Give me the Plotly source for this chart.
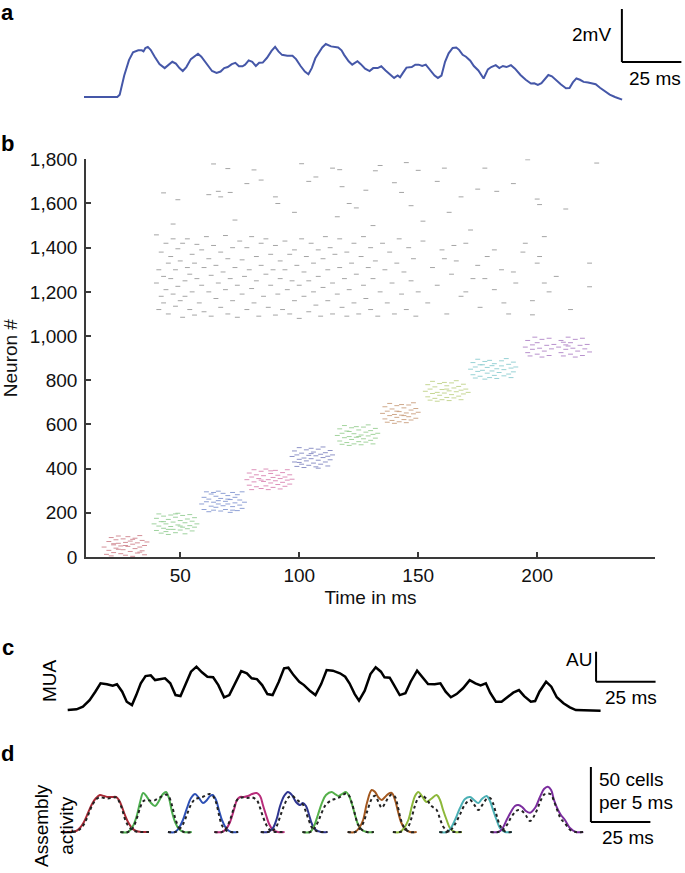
import plotly.graph_objects as go

W, H = 685, 873
FONT = "Liberation Sans, Arial, Helvetica, sans-serif"

# ---------------- Panel a: membrane potential (ms, mV) ----------------
vm_t = [0, 14.0, 15.0, 16.9, 18.9, 20.6, 22.8, 24.3, 25.0, 25.8, 26.8, 28.0, 29.7, 31.7, 33.9, 35.3, 37.1,
        38.6, 40.1, 41.5, 43.0, 44.9, 46.4, 47.9, 49.3, 50.8, 52.3, 53.8, 55.7, 57.4, 58.9, 60.4, 62.1,
        63.6, 65.1, 66.6, 67.7, 69.2, 70.7, 72.2, 73.6, 75.1, 76.9, 78.8, 80.3, 81.7, 83.2, 85.4, 87.6,
        89.1, 91.0, 92.8, 94.3, 95.7, 97.2, 98.7, 100.1, 101.6, 103.8, 106.8, 108.2, 109.3, 111.2, 112.7,
        114.9, 116.3, 118.1, 120.0, 121.5, 123.4, 124.9, 126.7, 128.9, 130.3, 131.8, 132.8, 134.0, 135.5,
        137.7, 139.2, 140.6, 142.1, 143.6, 145.4, 147.3, 148.7, 150.2, 151.7, 153.2, 154.9, 156.4, 157.6,
        159.1, 160.5, 162.3, 163.8, 165.7, 167.9, 169.7, 171.1, 173.0, 174.5, 176.0, 177.5, 179.4, 181.1,
        183.4, 185.6, 187.8, 189.2, 190.7, 192.2, 193.7, 195.1, 196.6, 198.1, 200.3, 202.5, 204.0, 205.4,
        206.9, 208.4, 209.9, 211.8, 213.5, 215.0, 216.8, 218.7, 220.9, 223.1, 226.1]
vm_mv = [0, 0, 0.09, 0.81, 1.39, 1.69, 1.76, 1.76, 1.72, 1.85, 1.89, 1.78, 1.52, 1.24, 1.09, 1.20, 1.33,
         1.26, 1.09, 0.98, 1.13, 1.43, 1.52, 1.63, 1.52, 1.33, 1.13, 0.98, 0.91, 0.96, 1.09, 1.13, 1.24,
         1.29, 1.16, 1.16, 1.22, 1.38, 1.33, 1.17, 1.29, 1.30, 1.48, 1.74, 1.89, 1.72, 1.59, 1.56, 1.56,
         1.43, 1.17, 0.96, 0.86, 1.09, 1.46, 1.65, 1.87, 2.00, 1.91, 1.87, 1.76, 1.59, 1.35, 1.22,
         1.35, 1.24, 1.07, 0.98, 1.09, 1.09, 1.16, 1.00, 0.81, 0.72, 0.81, 0.74, 0.91, 1.11,
         1.13, 1.22, 1.22, 1.17, 1.22, 1.04, 0.81, 0.72, 0.81, 1.33, 1.65, 1.85, 1.87, 1.78,
         1.59, 1.52, 1.37, 1.17, 1.00, 0.70, 1.04, 1.13, 1.20, 1.09, 1.17, 1.13, 1.20, 1.07,
         0.83, 0.65, 0.51, 0.52, 0.46, 0.52, 0.68, 0.83, 0.78, 0.65, 0.48, 0.33, 0.34, 0.55,
         0.70, 0.65, 0.57, 0.55, 0.51, 0.48, 0.35, 0.22, 0.09, 0.00, -0.10]

# ---------------- Panel b: raster (time ms, neuron #) ----------------
asm_colors = ["#b03242", "#4fae4f", "#3151b3", "#c2337f", "#2f3899",
              "#57b04c", "#a8612a", "#97b63c", "#42adb3", "#7d34a3"]

asm1 = [(18, 45), (19, 12), (20, 70), (20, 30), (21, 88), (21, 5), (22, 55), (22, 20), (23, 78), (23, 40),
        (24, 95), (24, 62), (25, 15), (25, 50), (26, 82), (26, 33), (27, 8), (27, 66), (28, 48), (28, 92),
        (29, 25), (29, 72), (30, 58), (30, 3), (31, 38), (31, 85), (32, 18), (32, 64), (33, 45), (33, 97),
        (34, 28), (34, 75), (35, 52), (35, 10), (36, 68), (24, 35), (27, 52), (30, 80), (22, 60), (33, 22)]
asm2 = [(39, 150), (40, 120), (40, 175), (41, 140), (41, 195), (42, 108), (42, 160), (43, 130), (43, 185),
        (44, 115), (44, 150), (45, 170), (45, 102), (46, 138), (46, 190), (47, 125), (47, 158), (48, 180),
        (48, 110), (49, 145), (49, 198), (50, 122), (50, 165), (51, 135), (51, 188), (52, 105), (52, 155),
        (53, 172), (53, 128), (54, 142), (54, 192), (55, 118), (55, 162), (56, 178), (56, 135), (57, 150),
        (45, 125), (50, 140), (48, 195), (43, 160)]
asm3 = [(59, 240), (60, 215), (60, 270), (61, 250), (61, 295), (62, 205), (62, 262), (63, 230), (63, 285),
        (64, 212), (64, 248), (65, 275), (65, 225), (66, 298), (66, 240), (67, 208), (67, 265), (68, 288),
        (68, 232), (69, 252), (69, 215), (70, 278), (70, 240), (71, 202), (71, 260), (72, 292), (72, 228),
        (73, 245), (73, 270), (74, 210), (74, 282), (75, 235), (75, 258), (76, 220), (76, 295), (77, 248),
        (66, 255), (70, 262), (64, 292), (72, 212)]
asm4 = [(78, 350), (79, 325), (79, 380), (80, 305), (80, 362), (81, 340), (81, 395), (82, 318), (82, 372),
        (83, 355), (84, 310), (84, 388), (85, 342), (85, 368), (86, 322), (86, 398), (87, 350), (87, 305),
        (88, 378), (88, 335), (89, 360), (89, 315), (90, 392), (90, 345), (91, 328), (91, 370), (92, 308),
        (92, 355), (93, 382), (93, 338), (94, 320), (94, 362), (95, 348), (95, 395), (96, 330), (96, 372),
        (97, 352), (88, 390), (84, 348)]
asm5 = [(97, 455), (98, 430), (98, 480), (99, 410), (99, 462), (100, 442), (100, 495), (101, 420), (101, 470),
        (102, 448), (102, 405), (103, 485), (103, 435), (104, 460), (104, 415), (105, 492), (105, 445),
        (106, 425), (106, 475), (107, 458), (107, 408), (108, 438), (108, 488), (109, 465), (109, 420),
        (110, 450), (110, 498), (111, 430), (111, 472), (112, 412), (112, 456), (113, 482), (113, 440),
        (114, 462), (105, 468), (100, 428), (108, 402)]
asm6 = [(116, 550), (117, 525), (117, 580), (118, 510), (118, 560), (119, 540), (119, 595), (120, 518),
        (120, 570), (121, 545), (121, 505), (122, 585), (122, 532), (123, 558), (123, 512), (124, 590),
        (124, 542), (125, 522), (125, 575), (126, 552), (126, 508), (127, 535), (127, 588), (128, 565),
        (128, 520), (129, 548), (129, 598), (130, 528), (130, 572), (131, 512), (131, 555), (132, 582),
        (132, 538), (133, 560), (125, 545), (121, 568)]
asm7 = [(135, 650), (136, 625), (136, 680), (137, 610), (137, 660), (138, 640), (138, 695), (139, 618),
        (139, 670), (140, 645), (140, 605), (141, 685), (141, 632), (142, 658), (142, 612), (143, 690),
        (143, 642), (144, 622), (144, 675), (145, 652), (145, 608), (146, 635), (146, 688), (147, 665),
        (147, 620), (148, 648), (148, 698), (149, 628), (149, 672), (150, 655), (141, 660), (144, 640)]
asm8 = [(153, 750), (154, 725), (154, 780), (155, 710), (155, 760), (156, 740), (156, 795), (157, 718),
        (157, 770), (158, 745), (158, 705), (159, 785), (159, 732), (160, 758), (160, 712), (161, 790),
        (161, 742), (162, 722), (162, 775), (163, 752), (163, 708), (164, 735), (164, 788), (165, 765),
        (165, 720), (166, 748), (166, 798), (167, 728), (167, 772), (168, 712), (168, 755), (169, 782),
        (169, 738), (170, 760), (171, 745), (162, 760)]
asm9 = [(172, 850), (173, 825), (173, 880), (174, 810), (174, 860), (175, 840), (175, 895), (176, 818),
        (176, 870), (177, 845), (178, 805), (178, 885), (179, 832), (179, 858), (180, 812), (180, 890),
        (181, 842), (182, 822), (182, 875), (183, 852), (183, 808), (184, 835), (185, 888), (185, 865),
        (186, 820), (186, 848), (187, 898), (188, 828), (188, 872), (189, 812), (189, 855), (190, 882),
        (190, 838), (191, 860), (181, 866), (177, 870)]
asm10 = [(195, 950), (196, 925), (196, 980), (197, 910), (198, 960), (198, 940), (199, 995), (200, 918),
         (200, 970), (201, 945), (202, 905), (202, 985), (203, 932), (204, 958), (205, 912), (205, 990),
         (206, 942), (207, 962), (209, 950), (210, 925), (210, 980), (211, 910), (212, 960), (212, 940),
         (213, 995), (214, 918), (214, 970), (215, 945), (216, 905), (216, 985), (217, 932), (218, 958),
         (219, 912), (219, 990), (220, 942), (221, 962), (222, 928), (213, 955), (211, 972)]
assemblies = [asm1, asm2, asm3, asm4, asm5, asm6, asm7, asm8, asm9, asm10]

bg_spikes = [
    (43, 1648), (47, 1507), (49, 1617), (62, 1640), (64, 1779), (66, 1655), (67, 1630), (70, 1758), (71, 1650),
    (73, 1525), (78, 1690), (81, 1752), (84, 1706), (90, 1630), (91, 1600), (98, 1560), (101, 1780), (104, 1700),
    (107, 1720), (114, 1760), (116, 1540), (117, 1753), (118, 1676), (121, 1600), (124, 1580), (128, 1660),
    (131, 1500), (132, 1748), (134, 1772), (140, 1694), (143, 1650), (145, 1785), (147, 1590), (150, 1750),
    (152, 1520), (158, 1700), (161, 1760), (163, 1560), (168, 1630), (172, 1480), (175, 1665), (178, 1760),
    (183, 1655), (190, 1690), (196, 1798), (200, 1620), (201, 1595), (212, 1575), (225, 1783),
    (40, 1458), (40, 1240), (41, 1120), (41, 1300), (42, 1180), (42, 1380), (43, 1150), (43, 1270),
    (44, 1420), (44, 1210), (45, 1330), (45, 1100), (46, 1260), (46, 1360), (47, 1190), (47, 1440),
    (48, 1135), (48, 1300), (49, 1225), (49, 1395), (50, 1160), (50, 1340), (51, 1085), (51, 1420),
    (52, 1250), (52, 1180), (53, 1310), (53, 1440), (54, 1120), (54, 1280), (55, 1370), (55, 1200),
    (56, 1095), (56, 1330), (57, 1260), (57, 1415), (58, 1150), (59, 1390), (59, 1230), (60, 1310),
    (60, 1110), (61, 1450), (62, 1200), (62, 1350), (63, 1275), (63, 1090), (64, 1410), (65, 1170),
    (65, 1320), (66, 1240), (67, 1380), (67, 1130), (68, 1290), (69, 1455), (69, 1210), (70, 1100),
    (70, 1350), (71, 1260), (72, 1400), (72, 1160), (73, 1310), (74, 1230), (74, 1085), (75, 1430),
    (76, 1190), (76, 1345), (77, 1270), (78, 1120), (78, 1400), (79, 1300), (80, 1215), (80, 1450),
    (81, 1150), (82, 1360), (82, 1250), (83, 1090), (84, 1320), (84, 1420), (85, 1180), (86, 1280),
    (86, 1440), (87, 1130), (88, 1370), (88, 1230), (89, 1300), (90, 1095), (90, 1410), (91, 1190),
    (92, 1340), (92, 1260), (93, 1120), (94, 1430), (94, 1300), (95, 1210), (96, 1370), (96, 1100),
    (97, 1250), (98, 1390), (98, 1160), (99, 1320), (100, 1230), (100, 1080), (101, 1440), (102, 1290),
    (102, 1180), (103, 1360), (104, 1110), (104, 1250), (105, 1420), (106, 1200), (106, 1330), (107, 1140),
    (108, 1390), (108, 1270), (109, 1090), (110, 1350), (110, 1220), (111, 1450), (112, 1160), (112, 1300),
    (113, 1400), (114, 1240), (114, 1100), (115, 1370), (116, 1190), (117, 1310), (117, 1440), (118, 1130),
    (119, 1260), (120, 1380), (120, 1090), (121, 1210), (122, 1330), (123, 1150), (123, 1420), (124, 1280),
    (125, 1100), (126, 1360), (127, 1230), (127, 1450), (128, 1170), (129, 1310), (130, 1400), (130, 1120),
    (131, 1260), (132, 1340), (133, 1090), (134, 1200), (135, 1420), (136, 1300), (137, 1150), (138, 1380),
    (139, 1240), (140, 1100), (141, 1330), (142, 1440), (143, 1190), (144, 1290), (145, 1120), (146, 1400),
    (147, 1250), (148, 1350), (149, 1090), (150, 1200), (152, 1430), (154, 1150), (156, 1310), (158, 1230),
    (160, 1390), (161, 1350), (162, 1100), (164, 1280), (165, 1410), (166, 1340), (168, 1180), (170, 1420),
    (170, 1200), (173, 1260), (175, 1320), (176, 1130), (178, 1260), (179, 1360), (182, 1390), (182, 1210),
    (185, 1300), (186, 1150), (188, 1100), (190, 1290), (191, 1240), (194, 1380), (195, 1420), (198, 1096),
    (198, 1160), (200, 1330), (201, 1360), (203, 1240), (203, 1450), (205, 1200), (208, 1270), (214, 1120),
    (222, 1223), (222, 1330)]

y_ticks = [0, 200, 400, 600, 800, 1000, 1200, 1400, 1600, 1800]
x_ticks = [50, 100, 150, 200, 250]
x_ticklabels = ["50", "100", "150", "200", ""]

# ---------------- Panel c: MUA (ms, AU) ----------------
mua_t = [0.0, 3.7, 6.4, 9.2, 11.6, 13.8, 16.5, 18.9, 20.7, 22.9, 24.8, 27.0, 28.8, 30.7, 32.7, 34.9, 36.7,
         38.9, 40.9, 43.1, 45.3, 47.4, 49.6, 51.8, 54.1, 56.4, 58.7, 61.1, 63.3, 65.7, 67.9, 70.7, 72.9,
         75.3, 77.3, 79.5, 81.7, 83.9, 86.1, 88.7, 90.9, 92.7, 94.9, 97.3, 99.3, 101.9, 104.1, 106.5,
         108.8, 111.4, 114.4, 116.6, 118.4, 120.6, 122.4, 124.8, 127.2, 129.4, 131.6, 133.1, 135.3,
         136.7, 139.5, 141.9, 144.1, 146.8, 149.2, 151.4, 154.2, 156.6, 158.8, 161.0, 163.4, 166.1,
         168.9, 171.3, 173.5, 175.7, 177.5, 179.9, 182.3, 184.8, 187.2, 189.6, 191.8, 194.6, 196.4,
         198.2, 201.0, 203.2, 205.5, 208.3, 211.0, 213.5, 216.6, 220.3, 223.9]
mua_au = [0.03, 0.07, 0.20, 0.53, 0.95, 1.37, 1.32, 1.25, 1.32, 0.95, 0.45, 0.28, 0.78, 1.37, 1.73, 1.77, 1.53,
          1.58, 1.62, 1.37, 0.78, 0.73, 1.37, 1.95, 2.20, 1.92, 1.70, 1.67, 1.28, 0.67, 0.78, 1.45, 1.98,
          1.87, 1.62, 1.58, 1.28, 0.83, 0.78, 1.45, 2.12, 2.15, 1.78, 1.45, 1.28, 0.98, 0.78, 1.33,
          2.03, 2.00, 1.87, 1.70, 1.37, 0.83, 0.50, 1.00, 1.83, 2.17, 1.95, 1.67, 1.65,
          1.37, 0.78, 0.87, 1.45, 2.00, 1.67, 1.33, 1.32, 1.37, 0.95, 0.67, 0.83, 1.12,
          1.53, 1.37, 1.27, 1.37, 0.90, 0.45, 0.45, 0.70, 0.90, 1.03, 0.73, 0.45, 0.48,
          0.95, 1.45, 1.20, 0.67, 0.37, 0.17, 0.03, 0.03, 0.00, 0.00]

# ---------------- Panel d: assembly activity (ms, cells per 5 ms) ----------------
d_t = [
    [-3.0, 0, 3.4, 5.0, 6.7, 8.4, 10.1, 11.8, 13.4, 15.1, 16.8, 18.5, 20.2, 21.4, 22.7, 23.9, 25.2, 26.9, 28.6, 31.1, 34.0],
    [22.0, 25.2, 27.3, 29.0, 30.3, 31.6, 33.2, 34.9, 36.6, 38.2, 39.9, 41.2, 42.4, 43.7, 45.0, 46.6, 48.7, 52.0],
    [42.0, 45.0, 46.6, 48.3, 50.0, 51.7, 53.4, 55.0, 56.7, 58.4, 59.7, 60.8, 62.2, 63.4, 64.7, 66.4, 68.5, 71.5],
    [61.5, 64.7, 66.4, 68.1, 69.7, 71.0, 72.3, 73.9, 75.6, 77.3, 79.3, 80.7, 81.9, 83.2, 84.5, 86.1, 88.2, 91.0],
    [81.0, 84.0, 86.1, 87.8, 89.1, 90.8, 92.4, 94.1, 95.8, 97.5, 98.7, 100.0, 101.3, 102.5, 104.2, 106.3, 109.0],
    [98.5, 101.7, 103.4, 105.0, 106.7, 108.4, 110.8, 112.2, 113.6, 115.1, 116.8, 118.1, 119.3, 120.6, 121.8, 123.5, 125.6, 128.5],
    [117.5, 120.6, 122.3, 124.0, 125.6, 127.6, 129.0, 130.3, 131.8, 133.2, 134.5, 136.0, 137.4, 138.7, 139.9, 141.6, 143.7, 146.5],
    [136.5, 139.5, 141.2, 143.0, 144.5, 145.8, 147.2, 148.7, 150.7, 152.5, 154.9, 156.3, 157.6, 159.1, 160.5, 162.6, 165.5],
    [156.0, 159.2, 160.9, 162.6, 164.7, 166.8, 168.9, 170.6, 172.4, 173.9, 175.9, 177.3, 178.6, 180.1, 181.5, 183.6, 186.5],
    [177.5, 180.7, 182.4, 184.3, 186.1, 187.8, 189.2, 190.8, 192.4, 194.1, 196.2, 198.3, 200.0, 201.6, 203.0, 204.2,
     205.9, 207.1, 208.8, 210.9, 213.4, 216.5],
]
d_model = [
    [0, 0, 0.9, 3.6, 9.1, 17.3, 25.5, 30.9, 33.6, 32.7, 31.8, 31.8, 31.8, 29.1, 22.7, 15.5, 9.1, 3.6, 0.9, 0, 0],
    [0, 0, 5.5, 15.5, 27.3, 35.5, 31.8, 26.4, 23.6, 28.2, 34.5, 36.4, 30.9, 18.2, 9.1, 2.7, 0, 0],
    [0, 0, 3.6, 10.9, 21.8, 30.9, 34.5, 30.9, 26.4, 29.1, 32.7, 33.6, 29.1, 20, 10.9, 3.6, 0, 0],
    [0, 0, 2.7, 9.1, 20, 29.1, 31.8, 31.8, 32.7, 34.5, 35.5, 32.7, 24.5, 15.5, 7.3, 1.8, 0, 0],
    [0, 0, 3.6, 12.7, 23.6, 32.7, 36.4, 33.6, 27.3, 24.5, 26.4, 23.6, 15.5, 7.3, 1.8, 0, 0],
    [0, 0, 5.5, 15.5, 26.4, 33.6, 36.4, 34.5, 32.7, 34.5, 36.4, 32.7, 25.5, 15.5, 7.3, 1.8, 0, 0],
    [0, 0, 3.6, 10.9, 26.4, 38.2, 36.4, 31.8, 29.1, 31.8, 34.5, 35.5, 29.1, 18.2, 9.1, 2.7, 0, 0],
    [0, 0, 3.6, 10.9, 23.6, 32.7, 36.4, 32.7, 27.3, 30, 33.6, 29.1, 20, 10.9, 3.6, 0, 0],
    [0, 0, 3.6, 10.9, 21.8, 30, 31.8, 29.1, 26.4, 30, 32.7, 28.2, 20, 10.9, 3.6, 0, 0],
    [0, 0, 2.7, 10.9, 18.2, 23.6, 24.5, 22.7, 19.1, 17.5, 21.8, 31.8, 39.1, 41.2, 38.2, 29.1, 20, 15.5, 10.9, 3.6, 0, 0],
]
d_data = [
    [0, 0, 0.5, 2.5, 7, 15, 24, 29.5, 31.5, 31, 30.5, 31, 31.5, 28, 21, 12, 6, 2, 0.5, 0, 0],
    [0, 0, 4, 13, 22, 28, 29, 28.5, 29, 31, 33, 34, 32, 24, 13, 4, 0, 0],
    [0, 0, 2, 7, 16, 25, 30, 31, 32, 34, 34.5, 33, 27, 16, 6, 1.5, 0, 0],
    [0, 0, 3, 11, 22, 29, 31, 31.5, 31, 31.5, 29, 22, 14, 7, 2.5, 0.5, 0, 0],
    [0, 0, 1.5, 6, 14, 24, 31, 33, 30, 27, 25, 18, 10, 4, 1, 0, 0],
    [0, 0, 3, 9, 18, 25, 29, 30, 31, 33, 35, 33, 26, 16, 7, 2, 0, 0],
    [0, 0, 2.5, 8, 18, 30, 33, 28, 22, 26, 31, 34, 32, 22, 11, 3, 0, 0],
    [0, 0, 1.5, 5, 14, 24, 31, 33, 30, 24, 20, 12, 5, 1.5, 0.3, 0, 0],
    [0, 0, 2, 7, 16, 25, 29, 25, 20, 24, 30, 31, 26, 15, 6, 0.5, 0],
    [0, 0, 1.5, 6, 13, 18, 20, 19, 15, 10, 16, 27, 34, 35, 34, 28, 18, 12, 8, 2, 0, 0],
]
d_colors = ["#a82a36", "#4dae4f", "#2d50b5", "#b82d7a", "#2e3590",
            "#55b04a", "#a3581f", "#8db83a", "#4bb0b5", "#7b2d9e"]

# ---------------- figure ----------------
fig = go.Figure()


def X(p):
    return p / W


def Y(p):
    return 1 - p / H


# panel a
fig.add_trace(go.Scatter(x=vm_t, y=vm_mv, mode="lines", xaxis="x2", yaxis="y2",
                         line=dict(color="#4557a8", width=2), hoverinfo="skip"))

# panel b
fig.add_trace(go.Scatter(x=[s[0] for s in bg_spikes], y=[s[1] for s in bg_spikes], mode="markers",
                         marker=dict(symbol="line-ew", size=3.5, line=dict(width=0.9, color="#9a9a9a")),
                         xaxis="x", yaxis="y", hoverinfo="skip"))
for spikes, col in zip(assemblies, asm_colors):
    fig.add_trace(go.Scatter(x=[s[0] for s in spikes], y=[s[1] for s in spikes], mode="markers",
                             marker=dict(symbol="line-ew", size=3.5, line=dict(width=0.9, color=col)),
                             opacity=0.6, xaxis="x", yaxis="y", hoverinfo="skip"))

# panel c
fig.add_trace(go.Scatter(x=mua_t, y=mua_au, mode="lines", xaxis="x3", yaxis="y3",
                         line=dict(color="black", width=2.5), hoverinfo="skip"))

# panel d
for t, m, col in zip(d_t, d_model, d_colors):
    fig.add_trace(go.Scatter(x=t, y=m, mode="lines", xaxis="x4", yaxis="y4", line_shape="spline",
                             line=dict(color=col, width=2), hoverinfo="skip"))
for t, d in zip(d_t, d_data):
    fig.add_trace(go.Scatter(x=t, y=d, mode="lines", xaxis="x4", yaxis="y4", line_shape="spline",
                             line=dict(color="#222222", width=2, dash="dot"), hoverinfo="skip"))

hidden = dict(visible=False, fixedrange=True, automargin=False)
axis_col = "#3a3a3a"
tickfont = dict(family=FONT, size=19, color="#111")

fig.update_layout(
    width=W, height=H, margin=dict(l=0, r=0, t=0, b=0, pad=0, autoexpand=False),
    paper_bgcolor="white", plot_bgcolor="rgba(0,0,0,0)", showlegend=False,
    font=dict(family=FONT, size=19, color="#111"),
    # panel b
    xaxis=dict(domain=[X(86), X(655)], range=[10.4, 249.5], showgrid=False, zeroline=False,
               showline=True, linecolor=axis_col, linewidth=1.6, ticks="inside", ticklen=5,
               tickwidth=1.5, tickcolor=axis_col, tickvals=x_ticks, ticktext=x_ticklabels,
               tickfont=tickfont, anchor="y", automargin=False,
               title=dict(text="Time in ms", font=dict(family=FONT, size=19), standoff=6)),
    yaxis=dict(domain=[Y(557), Y(159.3)], range=[0, 1800], showgrid=False, zeroline=False,
               showline=True, linecolor=axis_col, linewidth=1.6, ticks="inside", ticklen=5,
               tickwidth=1.5, tickcolor=axis_col, tickvals=y_ticks, tickformat=",d",
               tickfont=tickfont, anchor="x", ticklabelstandoff=3, automargin=False,
               title=dict(text="Neuron #", font=dict(family=FONT, size=19), standoff=8)),
    # panel a
    xaxis2=dict(domain=[0, 1], range=[-84 / 2.38, (685 - 84) / 2.38], anchor="y2", **hidden),
    yaxis2=dict(domain=[Y(110), 1], range=[(97 - 110) / 26.5, 97 / 26.5], anchor="x2", **hidden),
    # panel c
    xaxis3=dict(domain=[0, 1], range=[-67.7 / 2.38, (685 - 67.7) / 2.38], anchor="y3", **hidden),
    yaxis3=dict(domain=[Y(720), Y(620)], range=[(710.7 - 720) / 20, (710.7 - 620) / 20], anchor="x3", **hidden),
    # panel d
    xaxis4=dict(domain=[0, 1], range=[-68 / 2.38, (685 - 68) / 2.38], anchor="y4", **hidden),
    yaxis4=dict(domain=[0, Y(720)], range=[(832 - 873) / 1.1, (832 - 720) / 1.1], anchor="x4", **hidden),
)

bar = dict(type="line", line=dict(color="black", width=2))
shapes = [
    # panel a scale bar: 2 mV, 25 ms
    dict(bar, xref="x2", yref="y2", x0=226, x1=226, y0=1.32, y1=3.32),
    dict(bar, xref="x2", yref="y2", x0=226, x1=251, y0=1.32, y1=1.32),
    # panel c: AU, 25 ms
    dict(bar, xref="x3", yref="y3", x0=222, x1=222, y0=1.45, y1=2.95),
    dict(bar, xref="x3", yref="y3", x0=222, x1=247, y0=1.45, y1=1.45),
    # panel d: 50 cells, 25 ms
    dict(bar, xref="x4", yref="y4", x0=219.7, x1=219.7, y0=9.1, y1=59.1),
    dict(bar, xref="x4", yref="y4", x0=219.7, x1=244.7, y0=9.1, y1=9.1),
]
fig.update_layout(shapes=shapes)


def ann(text, x, y, xanchor="center", size=19, bold=False, angle=0):
    return dict(text=f"<b>{text}</b>" if bold else text, x=X(x), y=Y(y), xref="paper", yref="paper",
                xanchor=xanchor, yanchor="middle", showarrow=False, textangle=angle,
                font=dict(family=FONT, size=size, color="#000"))


annotations = [
    ann("a", 8, 13, size=22, bold=True),
    ann("2mV", 613, 35, xanchor="right"),
    ann("25 ms", 655, 78),
    ann("b", 8, 144, size=22, bold=True),
    ann("c", 8, 647, size=22, bold=True),
    ann("MUA", 49, 680, angle=-90),
    ann("AU", 594, 659, xanchor="right"),
    ann("25 ms", 631, 697),
    ann("d", 8, 753, size=22, bold=True),
    ann("Assembly<br>activity", 54, 826, angle=-90),
    ann("50 cells", 597, 779, xanchor="left"),
    ann("per 5 ms", 597, 802, xanchor="left"),
    ann("25 ms", 628, 837),
]
fig.update_layout(annotations=annotations)

fig.write_html("out.html", config={"displayModeBar": False},
               post_script="document.body.style.margin='0';document.body.style.overflow='hidden';")
